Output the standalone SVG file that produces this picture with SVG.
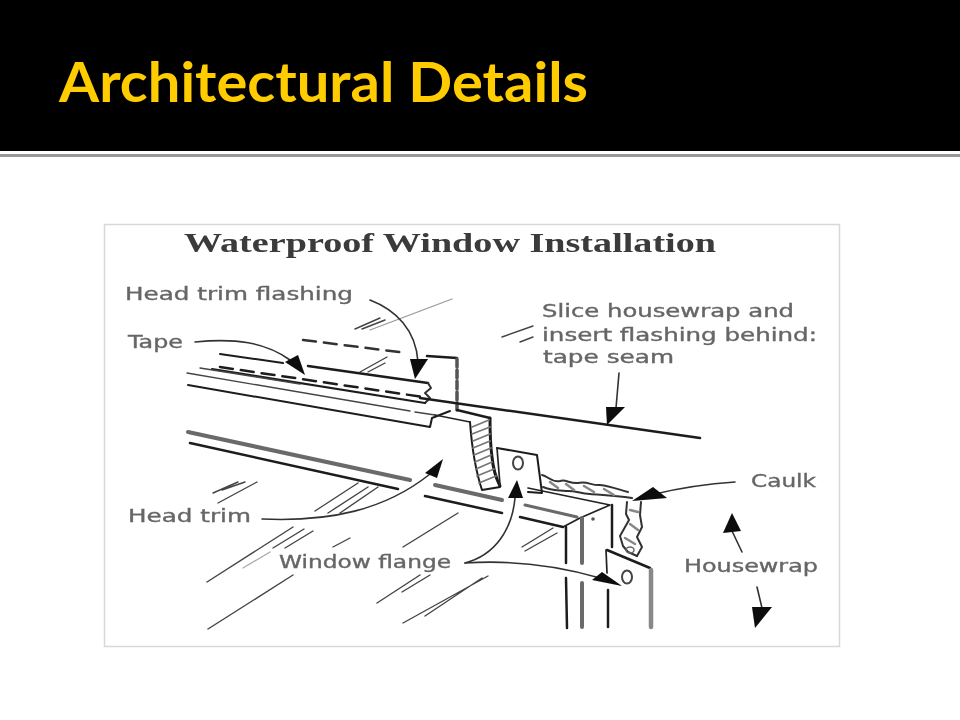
<svg xmlns="http://www.w3.org/2000/svg" width="960" height="720" viewBox="0 0 960 720">
<style>
.ln{fill:none;stroke:#222;stroke-width:1.7;stroke-linecap:round;stroke-linejoin:round}
.th{fill:none;stroke:#1c1c1c;stroke-width:2.5;stroke-linecap:round;stroke-linejoin:round}
.hn{fill:none;stroke:#444;stroke-width:1.4;stroke-linecap:round}
.lt{fill:none;stroke:#aaa;stroke-width:1.3;stroke-linecap:round}
.gr{fill:none;stroke:#6a6a6a;stroke-width:4;stroke-linecap:round}
.ld{fill:none;stroke:#333;stroke-width:1.6;stroke-linecap:round}
.hd{fill:#0a0a0a;stroke:none}
.ck{fill:none;stroke:#333;stroke-width:2;stroke-linecap:round;stroke-linejoin:round}
.lb{font-family:"DejaVu Sans",sans-serif;font-size:17px;fill:#666;stroke:#666;stroke-width:.35}
</style>
<defs><filter id="soft" x="-5%" y="-5%" width="110%" height="110%"><feGaussianBlur stdDeviation="0.6"/></filter></defs>
<rect width="960" height="720" fill="#fff"/>
<rect id="header" width="960" height="151" fill="#000"/>
<rect id="rule" y="154" width="960" height="3" fill="#999"/>
<text id="title" x="59" y="102" font-family="Lato,'Open Sans',sans-serif" font-weight="700" font-size="55" fill="#ffcc00" textLength="529" lengthAdjust="spacingAndGlyphs">Architectural Details</text>
<rect id="panel" x="104.500" y="224.500" width="735" height="422" fill="#fff" stroke="#d8d8d8" stroke-width="1.5"/>
<g id="drawing" filter="url(#soft)">
<g id="glazing-hatches">
<path class="hn" d="M355 329L380 318M362 329L385 320M360 372L387 357M368 372L385 363M502 337L533 326M520 342L533 337"/>
<path class="lt" style="stroke:#999" d="M370 330L452 299"/>
<path class="hn" d="M315 511L358 483M328 513L368 487M340 513L378 487M213 493L238 482M218 503L257 482M222 490L245 482M207 582L293 527M273 548L304 529M285 548L313 531M333 547L350 538M403 547L458 513M208 629L293 575M377 603L420 575M402 592L430 575M403 623L488 576M425 616L482 578M522 547L553 528M525 551L557 533"/>
<path class="lt" d="M243 568L270 552"/>
</g>
<g id="flashing">
<path class="th" style="stroke-width:2" d="M220 354L283 363"/>
<path class="th" d="M308 366L428 383"/>
<path class="ck" d="M428 383L431 388L425 393L430 398L425 403"/>
<path class="th" stroke-dasharray="13 8" style="stroke:#333" d="M303 340L407 353"/>
<path class="th" d="M427 356L457 358"/>
<path class="th" stroke-dasharray="8 3" style="stroke:#555;stroke-width:3.5" d="M457 359L457 410"/>
<path class="th" stroke-dasharray="13 8" d="M220 367L423 397"/>
<path class="th" style="stroke-width:2" d="M212 369L425 403"/>
<path class="hn" d="M200 368L300 384"/>
</g>
<g id="head-trim">
<path class="hn" d="M187 373L410 411"/>
<path class="hn" d="M415 412L435 415"/>
<path class="th" style="stroke-width:2" d="M188 385L430 427L432 418L450 411"/>
<path class="ln" d="M435 415L470 422"/>
<path class="th" d="M420 398L700 438"/>
<path class="th" d="M457 410L490 418"/>
<path class="th" style="stroke-width:2" d="M470 422C472 450 476 472 482 490L500 487"/>
<path class="th" style="stroke-width:3" d="M490 418C490 440 491 450 492 457C493 468 496 478 500 486"/>
<path class="hn" style="stroke:#777;stroke-width:1.8" d="M472 427L489 420M472 434L490 427M473 441L490 434M473 448L490 441M474 455L491 448M475 462L491 455M476 469L492 462M477 476L494 469M479 483L496 476"/>
</g>
<g id="window-frame">
<path class="gr" d="M188 432L410 480"/>
<path class="th" d="M190 443L398 489"/>
<path class="gr" d="M435 485L502 500"/>
<path class="th" d="M425 496L502 513"/>
<path class="gr" style="stroke-width:3" d="M525 505L577 517"/>
<path class="th" d="M520 517L563 527"/>
<path class="ln" d="M528 488L610 505L580 518L563 527"/>
<path class="th" d="M612 505L612 547M566 527L566 563M566 578L567 628M608 590L608 627"/>
<path class="gr" d="M582 518L582 563M582 583L582 627"/>
<circle cx="593" cy="519" r="1.800" fill="#555"/>
</g>
<g id="flanges">
<path class="th" style="stroke-width:2" d="M497 448L537 455L542 493L528 492"/>
<path class="ln" d="M497 448L500 485"/>
<ellipse cx="518" cy="463" rx="5" ry="6.500" fill="#fff" stroke="#444" stroke-width="2"/>
<path class="th" d="M607 550L650 568"/>
<path class="ln" d="M606 550L607 573"/>
<path class="gr" style="stroke:#888;stroke-width:4.500" d="M651 570L651 627"/>
<ellipse cx="627" cy="577" rx="5" ry="6.500" fill="#fff" stroke="#444" stroke-width="2"/>
</g>
<g id="caulk">
<path class="ck" d="M542 475C548 476 552 483 560 481C566 479 570 484 578 483C588 481 592 486 600 485C610 486 620 490 628 492"/>
<path class="ck" d="M543 487C552 491 558 490 566 491C575 490 580 494 590 494C600 495 612 495 632 498"/>
<path class="hn" style="stroke:#888;stroke-width:2.500" d="M550 482L558 488M566 484L574 490M584 486L594 492M604 489L614 495"/>
<path class="ck" d="M627 502L626 514L629 520L620 536L623 546L628 552L637 556"/>
<path class="ck" d="M641 502L640 515L642 527L637 537L642 547L637 556"/>
<path class="hn" style="stroke:#888;stroke-width:2.500" d="M630 510L638 512M630 524L638 530M625 538L635 544"/>
<ellipse cx="630" cy="550" rx="4" ry="3" fill="none" stroke="#666" stroke-width="1.500"/>
</g>
<g id="connectors">
<path class="ld" d="M370 300C396 310 416 330 418 362"/>
<path class="hd" d="M410 359L428 359L415 379Z"/>
<path class="ld" d="M195 342C235 338 265 342 290 360"/>
<path class="hd" d="M285 362L298 355L305 375Z"/>
<path class="ld" d="M619 373L616 408"/>
<path class="hd" d="M606 407L625 407L607 425Z"/>
<path class="ld" d="M735 482C705 484 680 488 655 494"/>
<path class="hd" d="M632 501L653 487L667 498Z"/>
<path class="ld" d="M742 552L732 531"/>
<path class="hd" d="M732 513L723 533L741 531Z"/>
<path class="ld" d="M757 587L762 608"/>
<path class="hd" d="M752 607L772 607L755 628Z"/>
<path class="ld" d="M262 519C330 522 385 510 430 474"/>
<path class="hd" d="M443 459L425 473L437 478Z"/>
<path class="ld" d="M465 563C495 555 512 530 515 498"/>
<path class="hd" d="M517 480L508 498L523 498Z"/>
<path class="ld" d="M465 563C510 560 555 565 600 578"/>
<path class="hd" d="M622 586L592 580L602 572Z"/>
</g>
<g id="labels">
<text x="184" y="252" font-family="'Liberation Serif',serif" font-weight="700" font-size="28" fill="#3a3a3a" textLength="532" lengthAdjust="spacingAndGlyphs">Waterproof Window Installation</text>
<text class="lb" x="125" y="300" textLength="228" lengthAdjust="spacingAndGlyphs">Head trim flashing</text>
<text class="lb" x="128" y="348" textLength="55" lengthAdjust="spacingAndGlyphs">Tape</text>
<text class="lb" x="542" y="317" textLength="252" lengthAdjust="spacingAndGlyphs">Slice housewrap and</text>
<text class="lb" x="542" y="341" textLength="275" lengthAdjust="spacingAndGlyphs">insert flashing behind:</text>
<text class="lb" x="543" y="363" textLength="131" lengthAdjust="spacingAndGlyphs">tape seam</text>
<text class="lb" x="128" y="522" textLength="123" lengthAdjust="spacingAndGlyphs">Head trim</text>
<text class="lb" x="279" y="568" textLength="172" lengthAdjust="spacingAndGlyphs">Window flange</text>
<text class="lb" x="751" y="487" textLength="65" lengthAdjust="spacingAndGlyphs">Caulk</text>
<text class="lb" x="684" y="572" textLength="134" lengthAdjust="spacingAndGlyphs">Housewrap</text>
</g>
</g>
</svg>
